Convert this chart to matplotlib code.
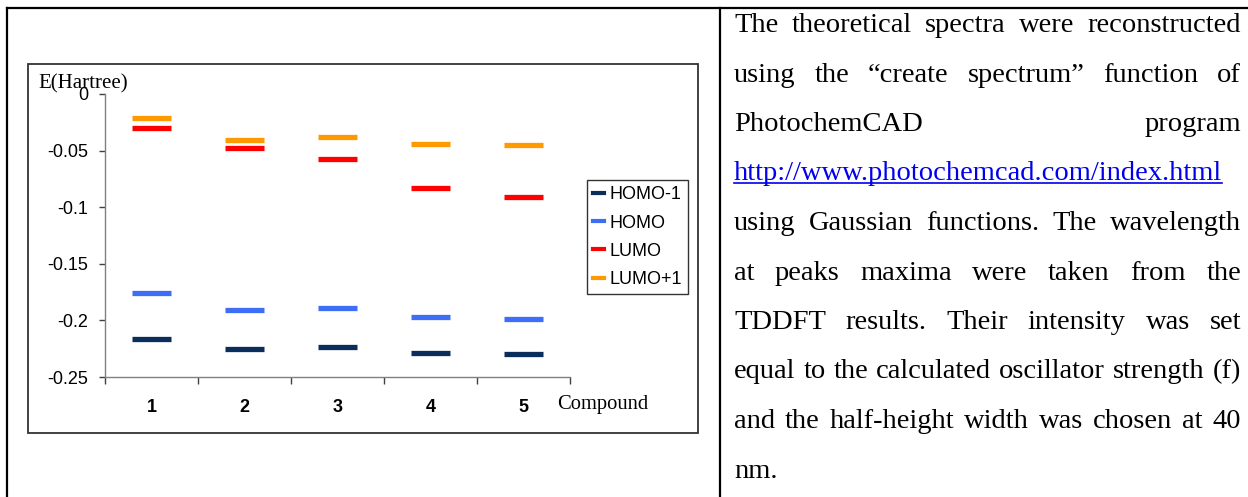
import matplotlib
matplotlib.use("Agg")
import matplotlib.pyplot as plt
from matplotlib.lines import Line2D
from matplotlib.patches import Rectangle

W, H = 1248, 497

compounds = ["1", "2", "3", "4", "5"]
homo_1 = [-0.2168, -0.2250, -0.2235, -0.2285, -0.2295]
homo = [-0.1757, -0.1910, -0.1887, -0.1970, -0.1985]
lumo = [-0.0298, -0.0480, -0.0574, -0.0827, -0.0912]
lumo_1 = [-0.0215, -0.0410, -0.0383, -0.0440, -0.0453]
series_names = ["HOMO-1", "HOMO", "LUMO", "LUMO+1"]
series_colors = ["#0b2d5b", "#3d6ef5", "#ff0000", "#ff9900"]
yticks = [0, -0.05, -0.1, -0.15, -0.2, -0.25]
ytick_labels = ["0", "-0.05", "-0.1", "-0.15", "-0.2", "-0.25"]

para_lines = [
    "The theoretical spectra were reconstructed",
    "using the \u201ccreate spectrum\u201d function of",
    "PhotochemCAD program",
    "http://www.photochemcad.com/index.html",
    "using Gaussian functions. The wavelength",
    "at peaks maxima were taken from the",
    "TDDFT results. Their intensity was set",
    "equal to the calculated oscillator strength (f)",
    "and the half-height width was chosen at 40",
    "nm.",
]

plt.rcParams["font.family"] = "Liberation Sans"

fig = plt.figure(figsize=(W / 100, H / 100), dpi=100)


def fx(px):
    return px / W


def fy(py):
    return 1 - py / H


# table borders
for xs, ys in [([7, W], [8, 8]), ([7, 7], [8, H]), ([720, 720], [8, H])]:
    fig.add_artist(Line2D([fx(v) for v in xs], [fy(v) for v in ys],
                          color="black", lw=1.6))

# chart frame
fig.add_artist(Rectangle((fx(28), fy(433)), fx(698) - fx(28), fy(64) - fy(433),
                         fill=False, ec="#333333", lw=1.3, transform=fig.transFigure))

ax = fig.add_axes([fx(105), fy(377), fx(570) - fx(105), fy(94) - fy(377)])
ax.set_facecolor("none")
xpos = range(1, len(compounds) + 1)
for vals, name, col in zip([homo_1, homo, lumo, lumo_1], series_names, series_colors):
    for x, v in zip(xpos, vals):
        ax.plot([x - 0.215, x + 0.215], [v, v], color=col, lw=3.8,
                solid_capstyle="butt")

ax.set_xlim(0.5, 5.5)
ax.set_ylim(-0.25, 0)
for s in ["top", "right"]:
    ax.spines[s].set_visible(False)
for s in ["left", "bottom"]:
    ax.spines[s].set_color("#808080")
    ax.spines[s].set_linewidth(1.0)
ax.set_yticks(yticks)
ax.set_yticklabels(ytick_labels)
ax.set_xticks([0.5 + i for i in range(6)])
ax.set_xticklabels([])
ax.set_xticks(list(xpos), minor=True)
ax.set_xticklabels(compounds, minor=True, fontweight="bold", fontsize=13)
ax.tick_params(axis="y", direction="out", length=4, width=1, color="#404040",
               labelsize=13, pad=8)
ax.tick_params(axis="x", which="major", direction="out", length=5, width=1,
               color="#404040")
ax.tick_params(axis="x", which="minor", length=0, pad=16)

handles = [Line2D([], [], color=c, lw=3) for c in series_colors]
leg = fig.legend(handles, series_names, loc="upper left",
                 bbox_to_anchor=(fx(587), fy(180)), fontsize=13,
                 handlelength=0.6, handletextpad=0.3, labelspacing=0.62,
                 borderpad=0.35, borderaxespad=0, fancybox=False,
                 edgecolor="#333333", framealpha=1)
leg.get_frame().set_linewidth(1.0)

fig.text(fx(38), fy(88), "E(Hartree)", family="Liberation Serif",
         fontsize=15, va="baseline", ha="left")
fig.text(fx(557), fy(404), "Compound", family="Liberation Serif",
         fontsize=14.8, va="center", ha="left")

# justified paragraph
renderer = fig.canvas.get_renderer()
left, right = 734, 1241
fs = 20.5
for i, line in enumerate(para_lines):
    base = 32 + 49.5 * i
    words = line.split(" ")
    if line.startswith("http"):
        t = fig.text(fx(left), fy(base), line, family="Liberation Serif",
                     fontsize=fs, va="baseline", color="#0000ee")
        wpx = t.get_window_extent(renderer).width
        fig.add_artist(Line2D([fx(left), fx(left + wpx)],
                              [fy(base + 3), fy(base + 3)], color="#0000ee", lw=1.2))
        continue
    if i == len(para_lines) - 1 or len(words) == 1:
        fig.text(fx(left), fy(base), line, family="Liberation Serif",
                 fontsize=fs, va="baseline")
        continue
    texts = [fig.text(0, fy(base), w, family="Liberation Serif", fontsize=fs,
                      va="baseline") for w in words]
    widths = [t.get_window_extent(renderer).width for t in texts]
    gap = (right - left - sum(widths)) / (len(words) - 1)
    x = left
    for t, wd in zip(texts, widths):
        t.set_x(fx(x))
        x += wd + gap

fig.savefig("out.png", dpi=100)
